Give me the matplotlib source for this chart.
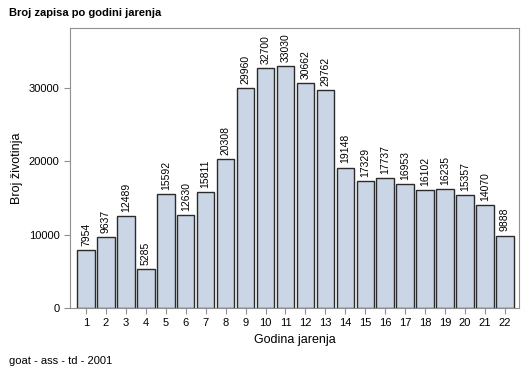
import matplotlib
matplotlib.use("Agg")
import matplotlib.pyplot as plt

plt.rcParams['font.family'] = ['Liberation Sans', 'DejaVu Sans']

# data
years = list(range(1, 23))
counts = [7954, 9637, 12489, 5285, 15592, 12630, 15811, 20308, 29960, 32700, 33030,
          30662, 29762, 19148, 17329, 17737, 16953, 16102, 16235, 15357, 14070, 9888]
yticks = [0, 10000, 20000, 30000]

fig = plt.figure(figsize=(5.29, 3.78), dpi=100)
ax = fig.add_axes([0.1323, 0.1852, 0.8487, 0.7408])

ax.bar(years, counts, width=0.88, color="#CAD5E5", edgecolor="#2b2b2b", linewidth=1.0)
for x, v in zip(years, counts):
    ax.annotate(str(v), (x, v), xytext=(0, 3), textcoords="offset points",
                rotation=90, ha="center", va="bottom", fontsize=7.5)

ax.set_xlim(0.2, 22.7)
ax.set_ylim(0, 38200)
ax.set_xticks(years)
ax.set_yticks(yticks)
ax.set_yticklabels([str(t) for t in yticks])
ax.tick_params(axis="both", colors="#909090", labelcolor="black", labelsize=8, length=4)
for s in ax.spines.values():
    s.set_color("#909090")

ax.set_xlabel("Godina jarenja", fontsize=9)
ax.set_ylabel("Broj životinja", fontsize=9)
fig.text(0.017, 0.965, "Broj zapisa po godini jarenja", fontsize=8, fontweight="bold",
         ha="left", va="center")
fig.text(0.017, 0.045, "goat - ass - td - 2001", fontsize=8, ha="left", va="center")

fig.savefig("out.png", dpi=100)
